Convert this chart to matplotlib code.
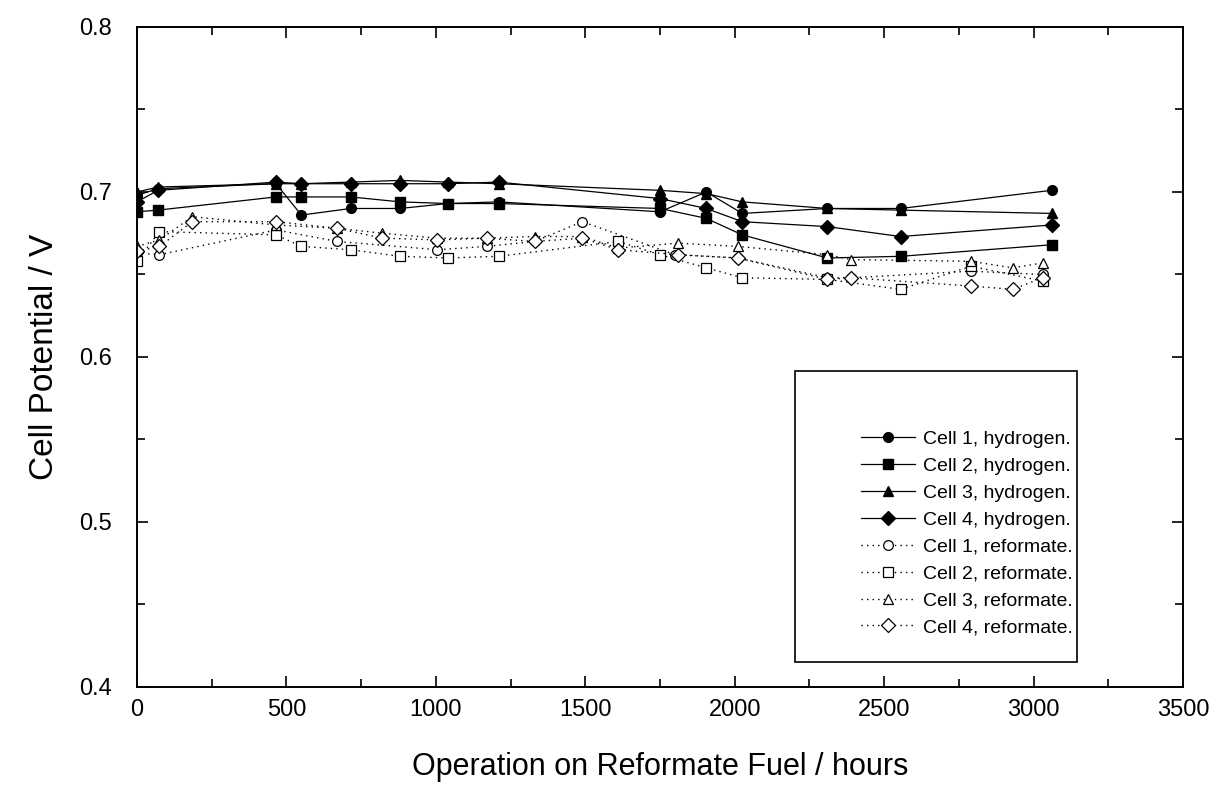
import matplotlib
matplotlib.use("Agg")
import matplotlib.pyplot as plt
from matplotlib.patches import Rectangle
from matplotlib.ticker import MultipleLocator

plt.rcParams["font.family"] = ["Liberation Sans", "DejaVu Sans"]

# Hydrogen runs: all four cells measured at the same times
h_hours = [0, 70, 465, 550, 715, 880, 1040, 1210, 1750, 1905, 2025, 2310, 2555, 3060]
cell1_h = [0.698, 0.702, 0.705, 0.686, 0.690, 0.690, 0.693, 0.694, 0.688, 0.700, 0.687, 0.690, 0.690, 0.701]
cell2_h = [0.688, 0.689, 0.697, 0.697, 0.697, 0.694, 0.693, 0.693, 0.690, 0.684, 0.674, 0.660, 0.661, 0.668]
cell3_h = [0.700, 0.703, 0.705, 0.705, 0.706, 0.707, 0.706, 0.705, 0.701, 0.699, 0.694, 0.690, 0.689, 0.687]
cell4_h = [0.694, 0.701, 0.706, 0.705, 0.705, 0.705, 0.705, 0.706, 0.696, 0.690, 0.682, 0.679, 0.673, 0.680]

# Reformate runs
c1_r_hours = [0, 75, 465, 670, 1005, 1170, 1330, 1490, 1800, 2010, 2310, 2390, 2790, 3030]
cell1_r = [0.663, 0.662, 0.677, 0.670, 0.665, 0.667, 0.670, 0.682, 0.662, 0.660, 0.648, 0.648, 0.652, 0.650]
c2_r_hours = [0, 75, 465, 550, 715, 880, 1040, 1210, 1610, 1750, 1905, 2025, 2310, 2555, 2790, 3030]
cell2_r = [0.658, 0.676, 0.674, 0.667, 0.665, 0.661, 0.660, 0.661, 0.670, 0.662, 0.654, 0.648, 0.647, 0.641, 0.655, 0.646]
c34_r_hours = [0, 75, 185, 465, 670, 820, 1005, 1170, 1330, 1490, 1610, 1810, 2010, 2310, 2390, 2790, 2930, 3030]
cell3_r = [0.667, 0.671, 0.685, 0.680, 0.678, 0.675, 0.672, 0.672, 0.673, 0.673, 0.666, 0.669, 0.667, 0.662, 0.659, 0.658, 0.654, 0.657]
cell4_r = [0.664, 0.667, 0.682, 0.682, 0.678, 0.672, 0.671, 0.672, 0.670, 0.672, 0.665, 0.662, 0.660, 0.647, 0.648, 0.643, 0.641, 0.648]

fig = plt.figure(figsize=(12.16, 7.91), dpi=100)
ax = fig.add_axes([0.1127, 0.1315, 0.8602, 0.8344])

solid = dict(color="black", lw=0.9, ls="-", markersize=7)
dotted = dict(color="black", lw=1.0, ls=(0, (1, 3)), markersize=7,
              markerfacecolor="white", markeredgewidth=0.9)

ax.plot(h_hours, cell1_h, marker="o", label="Cell 1, hydrogen.", **solid)
ax.plot(h_hours, cell2_h, marker="s", label="Cell 2, hydrogen.", **solid)
ax.plot(h_hours, cell3_h, marker="^", label="Cell 3, hydrogen.", **solid)
ax.plot(h_hours, cell4_h, marker="D", label="Cell 4, hydrogen.", **solid)
ax.plot(c1_r_hours, cell1_r, marker="o", label="Cell 1, reformate.", **dotted)
ax.plot(c2_r_hours, cell2_r, marker="s", label="Cell 2, reformate.", **dotted)
ax.plot(c34_r_hours, cell3_r, marker="^", label="Cell 3, reformate.", **dotted)
ax.plot(c34_r_hours, cell4_r, marker="D", label="Cell 4, reformate.", **dotted)

ax.set_xlim(0, 3500)
ax.set_ylim(0.4, 0.8)
ax.xaxis.set_major_locator(MultipleLocator(500))
ax.xaxis.set_minor_locator(MultipleLocator(250))
ax.yaxis.set_major_locator(MultipleLocator(0.1))
ax.yaxis.set_minor_locator(MultipleLocator(0.05))
ax.tick_params(which="both", direction="in", top=True, right=True, width=1.2)
ax.tick_params(which="major", length=8, labelsize=17)
ax.tick_params(axis="y", which="major", pad=18)
ax.tick_params(axis="x", which="major", pad=9)
ax.tick_params(which="minor", length=6)
ax.yaxis.set_major_formatter(plt.FuncFormatter(lambda v, p: f"{v:.1f}"))
for s in ax.spines.values():
    s.set_linewidth(1.4)

ax.set_xlabel("Operation on Reformate Fuel / hours", fontsize=22, labelpad=22)
ax.set_ylabel("Cell Potential / V", fontsize=24, labelpad=14)

# legend frame with blank space above the entries
ax.add_patch(Rectangle((0.629, 0.038), 0.27, 0.44, transform=ax.transAxes,
                       fill=False, lw=1.2, ec="black", zorder=3))
ax.legend(loc="lower right", bbox_to_anchor=(0.902, 0.065), frameon=False,
          fontsize=14, labelspacing=0.48, handlelength=2.8, handletextpad=0.4,
          borderaxespad=0)

fig.savefig("out.png", dpi=100)
